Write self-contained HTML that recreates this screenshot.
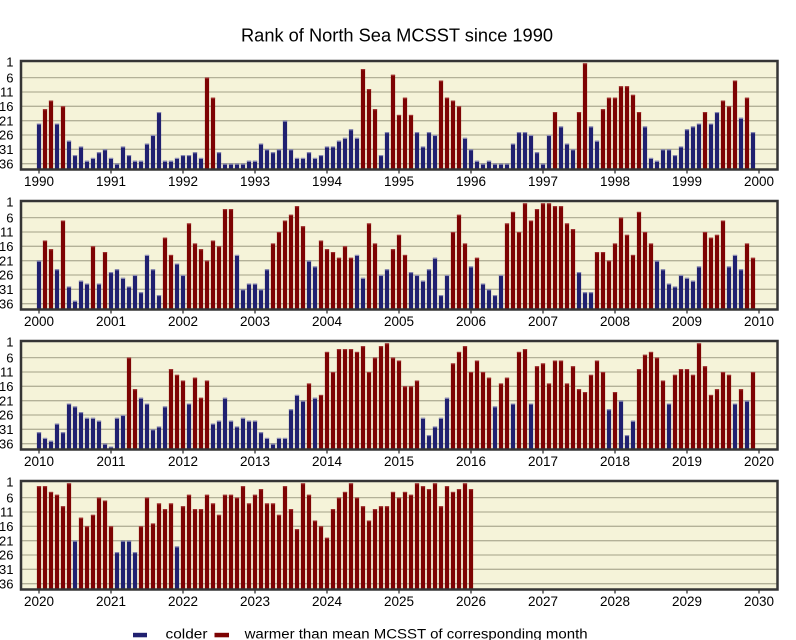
<!DOCTYPE html>
<html><head><meta charset="utf-8">
<style>
html,body{margin:0;padding:0;background:#fff;}
svg{display:block;}
text{font-family:"Liberation Sans",sans-serif;fill:#000;}
</style></head><body>
<svg width="796" height="640" viewBox="0 0 796 640" xmlns="http://www.w3.org/2000/svg">
<defs>
<g id="pbg">
<rect x="21" y="61" width="756.5" height="108.5" fill="#F5F3D9"/>
<g stroke="#B3B198" stroke-width="1.3">
<line x1="21" y1="77.6" x2="777" y2="77.6"/>
<line x1="21" y1="92" x2="777" y2="92"/>
<line x1="21" y1="106.3" x2="777" y2="106.3"/>
<line x1="21" y1="120.7" x2="777" y2="120.7"/>
<line x1="21" y1="135" x2="777" y2="135"/>
<line x1="21" y1="149.3" x2="777" y2="149.3"/>
<line x1="21" y1="163.7" x2="777" y2="163.7"/>
</g>
</g>
<g id="pfg">
<rect x="21" y="61" width="756.5" height="108.5" fill="none" stroke="#353535" stroke-width="2.5"/>
<g stroke="#353535" stroke-width="1.3">
<line x1="39" y1="170" x2="39" y2="173.5"/><line x1="111" y1="170" x2="111" y2="173.5"/><line x1="183" y1="170" x2="183" y2="173.5"/><line x1="255" y1="170" x2="255" y2="173.5"/><line x1="327" y1="170" x2="327" y2="173.5"/><line x1="399" y1="170" x2="399" y2="173.5"/><line x1="471" y1="170" x2="471" y2="173.5"/><line x1="543" y1="170" x2="543" y2="173.5"/><line x1="615" y1="170" x2="615" y2="173.5"/><line x1="687" y1="170" x2="687" y2="173.5"/><line x1="759" y1="170" x2="759" y2="173.5"/>
</g>
</g>
</defs>

<rect width="796" height="640" fill="#fff"/>
<text x="397" y="41.5" font-size="18" text-anchor="middle" textLength="312" lengthAdjust="spacingAndGlyphs">Rank of North Sea MCSST since 1990</text>

<use href="#pbg"/>
<use href="#pbg" transform="translate(0,140)"/>
<use href="#pbg" transform="translate(0,280)"/>
<use href="#pbg" transform="translate(0,420)"/>

<g id="bars"></g>

<use href="#pfg"/>
<use href="#pfg" transform="translate(0,140)"/>
<use href="#pfg" transform="translate(0,280)"/>
<use href="#pfg" transform="translate(0,420)"/>

<!-- Y labels panel 1 -->
<g font-size="13" text-anchor="end">
<text x="13.5" y="66.3">1</text><text x="13.5" y="82.3">6</text><text x="13.5" y="96.7">11</text><text x="13.5" y="111">16</text><text x="13.5" y="125.4">21</text><text x="13.5" y="139.7">26</text><text x="13.5" y="154">31</text><text x="13.5" y="168.4">36</text>
</g>
<g font-size="13" text-anchor="end" transform="translate(0,140)">
<text x="13.5" y="66.3">1</text><text x="13.5" y="82.3">6</text><text x="13.5" y="96.7">11</text><text x="13.5" y="111">16</text><text x="13.5" y="125.4">21</text><text x="13.5" y="139.7">26</text><text x="13.5" y="154">31</text><text x="13.5" y="168.4">36</text>
</g>
<g font-size="13" text-anchor="end" transform="translate(0,280)">
<text x="13.5" y="66.3">1</text><text x="13.5" y="82.3">6</text><text x="13.5" y="96.7">11</text><text x="13.5" y="111">16</text><text x="13.5" y="125.4">21</text><text x="13.5" y="139.7">26</text><text x="13.5" y="154">31</text><text x="13.5" y="168.4">36</text>
</g>
<g font-size="13" text-anchor="end" transform="translate(0,420)">
<text x="13.5" y="66.3">1</text><text x="13.5" y="82.3">6</text><text x="13.5" y="96.7">11</text><text x="13.5" y="111">16</text><text x="13.5" y="125.4">21</text><text x="13.5" y="139.7">26</text><text x="13.5" y="154">31</text><text x="13.5" y="168.4">36</text>
</g>

<!-- X labels -->
<g font-size="13.5" text-anchor="middle">
<text x="39" y="186">1990</text><text x="111" y="186">1991</text><text x="183" y="186">1992</text><text x="255" y="186">1993</text><text x="327" y="186">1994</text><text x="399" y="186">1995</text><text x="471" y="186">1996</text><text x="543" y="186">1997</text><text x="615" y="186">1998</text><text x="687" y="186">1999</text><text x="759" y="186">2000</text>
</g>
<g font-size="13.5" text-anchor="middle" transform="translate(0,140)">
<text x="39" y="186">2000</text><text x="111" y="186">2001</text><text x="183" y="186">2002</text><text x="255" y="186">2003</text><text x="327" y="186">2004</text><text x="399" y="186">2005</text><text x="471" y="186">2006</text><text x="543" y="186">2007</text><text x="615" y="186">2008</text><text x="687" y="186">2009</text><text x="759" y="186">2010</text>
</g>
<g font-size="13.5" text-anchor="middle" transform="translate(0,280)">
<text x="39" y="186">2010</text><text x="111" y="186">2011</text><text x="183" y="186">2012</text><text x="255" y="186">2013</text><text x="327" y="186">2014</text><text x="399" y="186">2015</text><text x="471" y="186">2016</text><text x="543" y="186">2017</text><text x="615" y="186">2018</text><text x="687" y="186">2019</text><text x="759" y="186">2020</text>
</g>
<g font-size="13.5" text-anchor="middle" transform="translate(0,420)">
<text x="39" y="186">2020</text><text x="111" y="186">2021</text><text x="183" y="186">2022</text><text x="255" y="186">2023</text><text x="327" y="186">2024</text><text x="399" y="186">2025</text><text x="471" y="186">2026</text><text x="543" y="186">2027</text><text x="615" y="186">2028</text><text x="687" y="186">2029</text><text x="759" y="186">2030</text>
</g>

<!-- Legend -->
<rect x="133" y="632.8" width="14" height="4.5" fill="#202070"/>
<text x="165.5" y="638.5" font-size="13.5" textLength="42" lengthAdjust="spacingAndGlyphs">colder</text>
<rect x="214.5" y="632.8" width="14.5" height="4.5" fill="#7D0303"/>
<text x="244.6" y="638.5" font-size="13.5" textLength="343" lengthAdjust="spacingAndGlyphs">warmer than mean MCSST of corresponding month</text>
</svg>
<script>
(function(){
var D=[
[-22,17,14,-22,16,-28,-33,-30,-35,-34,-32,-31,
 -34,-36,-30,-33,-35,-35,-29,-26,-18,-35,-35,-34,
 -33,-33,-32,-34,6,13,-32,-36,-36,-36,-36,-35,
 -35,-29,-31,-32,-31,-21,-31,-34,-34,-32,-34,-33,
 -30,-30,-28,-27,-24,-27,3,10,17,-33,-25,5,
 19,13,19,-25,-30,-25,-26,7,13,14,16,-27,
 -31,-35,-36,-35,-36,-36,-36,-29,-25,-25,-26,-32,
 -36,-26,18,-23,-29,-31,18,1,-23,-28,17,13,
 13,9,9,12,18,-23,-34,-35,-31,-31,-33,-30,
 -24,-23,-22,18,-22,-18,14,16,7,-20,13,-25],
[-21,14,17,-24,7,-30,-35,-28,-29,16,-29,18,
 -25,-24,-27,-30,-26,-32,-19,-24,-33,13,19,-22,
 -26,8,15,17,21,14,16,3,3,-19,-31,-29,
 -29,-31,-24,15,11,7,5,2,9,-21,-23,14,
 17,18,20,16,20,-19,-27,8,15,-26,-24,17,
 12,19,-25,-26,-28,-24,-20,-33,-26,11,5,15,
 -23,20,-29,-31,-33,-26,8,4,11,1,7,3,
 1,1,2,2,8,10,-25,-32,-32,18,18,21,
 15,6,12,19,4,11,15,-21,-24,-29,-30,-26,
 -27,-28,-23,11,13,12,7,-23,-19,-24,15,20],
[-32,-34,-35,-29,-32,-22,-23,-25,-27,-27,-28,-36,
 -37,-27,-26,6,17,-20,-22,-31,-30,-23,10,12,
 14,-22,13,20,14,-29,-28,-20,-28,-30,-27,-28,
 -28,-32,-34,-36,-34,-34,-24,-19,-21,15,-20,19,
 4,11,3,3,3,4,2,11,6,2,1,6,
 7,16,16,14,-27,-33,-30,-27,-20,8,4,2,
 11,7,11,13,-23,15,13,-22,4,3,-22,9,
 8,15,7,7,15,9,17,18,12,7,11,-24,
 18,-21,-33,-28,10,5,4,6,14,-22,12,10,
 10,12,1,9,19,17,11,12,-22,17,-21,11],
[2,2,4,5,9,1,-21,13,16,12,6,7,
 16,-25,-21,-21,-25,16,6,15,8,10,8,-23,
 9,5,10,10,5,8,12,5,5,6,2,8,
 5,3,8,8,12,2,10,17,1,5,14,16,
 20,10,6,4,1,6,9,14,10,9,9,4,
 6,4,5,1,2,3,1,9,2,4,3,1,
 3]
];
var ns='http://www.w3.org/2000/svg';
var g=document.getElementById('bars');
function R(x,y,w,h,c){var r=document.createElementNS(ns,'rect');r.setAttribute('x',x);r.setAttribute('y',y);r.setAttribute('width',w);r.setAttribute('height',h);r.setAttribute('fill',c);g.appendChild(r);}
for(var p=0;p<4;p++){
  var a=D[p];
  for(var i=0;i<a.length;i++){
    var v=a[i],rk=Math.abs(v),bl=v<0;
    var x=39+6*i-2.1;
    var y=63.3+(rk-1)*2.867+140*p;
    var h=169.5+140*p-y;
    R(x,y,4.2,h,bl?'#202070':'#7D0303');
    R(x,y,4.2,1.1,bl?'#8C8CB4':'#A03030');
  }
}
})();
</script>
</body></html>
